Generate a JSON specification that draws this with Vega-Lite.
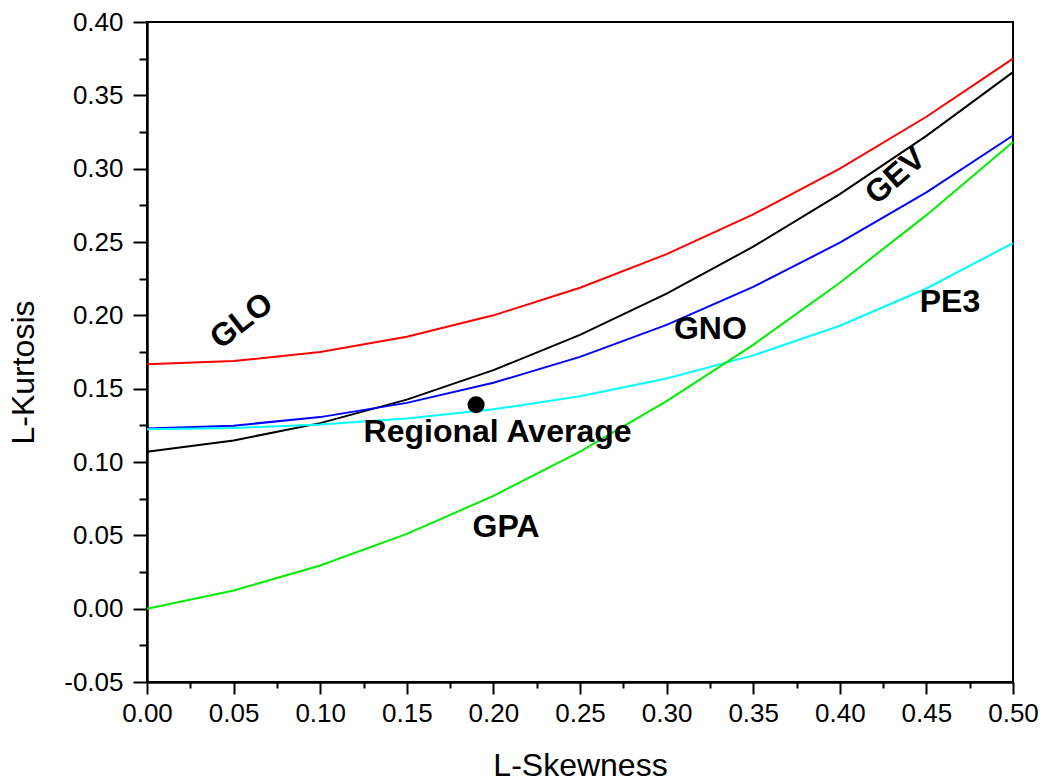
{
  "$schema": "https://vega.github.io/schema/vega-lite/v6.json",
  "width": 866,
  "height": 660,
  "autosize": "none",
  "padding": {"left": 147, "top": 22, "right": 33, "bottom": 99},
  "background": "white",
  "config": {
    "view": {"stroke": "black", "strokeWidth": 2},
    "font": "Liberation Sans",
    "axis": {
      "grid": false,
      "domainColor": "black",
      "domainWidth": 2.5,
      "tickColor": "black",
      "tickWidth": 2,
      "labelColor": "black",
      "labelFont": "Liberation Sans",
      "labelFontSize": 26,
      "titleFont": "Liberation Sans",
      "titleFontSize": 32,
      "titleFontWeight": "normal",
      "titleColor": "black"
    }
  },
  "datasets": {
    "curves": [
      {"dist": "GLO", "skew": 0.00, "kurt": 0.1667},
      {"dist": "GLO", "skew": 0.05, "kurt": 0.1688},
      {"dist": "GLO", "skew": 0.10, "kurt": 0.1750},
      {"dist": "GLO", "skew": 0.15, "kurt": 0.1854},
      {"dist": "GLO", "skew": 0.20, "kurt": 0.2000},
      {"dist": "GLO", "skew": 0.25, "kurt": 0.2188},
      {"dist": "GLO", "skew": 0.30, "kurt": 0.2417},
      {"dist": "GLO", "skew": 0.35, "kurt": 0.2688},
      {"dist": "GLO", "skew": 0.40, "kurt": 0.3000},
      {"dist": "GLO", "skew": 0.45, "kurt": 0.3354},
      {"dist": "GLO", "skew": 0.50, "kurt": 0.3750},
      {"dist": "GEV", "skew": 0.00, "kurt": 0.1070},
      {"dist": "GEV", "skew": 0.05, "kurt": 0.1147},
      {"dist": "GEV", "skew": 0.10, "kurt": 0.1265},
      {"dist": "GEV", "skew": 0.15, "kurt": 0.1425},
      {"dist": "GEV", "skew": 0.20, "kurt": 0.1626},
      {"dist": "GEV", "skew": 0.25, "kurt": 0.1867},
      {"dist": "GEV", "skew": 0.30, "kurt": 0.2148},
      {"dist": "GEV", "skew": 0.35, "kurt": 0.2468},
      {"dist": "GEV", "skew": 0.40, "kurt": 0.2827},
      {"dist": "GEV", "skew": 0.45, "kurt": 0.3224},
      {"dist": "GEV", "skew": 0.50, "kurt": 0.3658},
      {"dist": "GNO", "skew": 0.00, "kurt": 0.1228},
      {"dist": "GNO", "skew": 0.05, "kurt": 0.1248},
      {"dist": "GNO", "skew": 0.10, "kurt": 0.1306},
      {"dist": "GNO", "skew": 0.15, "kurt": 0.1403},
      {"dist": "GNO", "skew": 0.20, "kurt": 0.1540},
      {"dist": "GNO", "skew": 0.25, "kurt": 0.1717},
      {"dist": "GNO", "skew": 0.30, "kurt": 0.1935},
      {"dist": "GNO", "skew": 0.35, "kurt": 0.2194},
      {"dist": "GNO", "skew": 0.40, "kurt": 0.2495},
      {"dist": "GNO", "skew": 0.45, "kurt": 0.2839},
      {"dist": "GNO", "skew": 0.50, "kurt": 0.3226},
      {"dist": "PE3", "skew": 0.00, "kurt": 0.1224},
      {"dist": "PE3", "skew": 0.05, "kurt": 0.1232},
      {"dist": "PE3", "skew": 0.10, "kurt": 0.1255},
      {"dist": "PE3", "skew": 0.15, "kurt": 0.1297},
      {"dist": "PE3", "skew": 0.20, "kurt": 0.1359},
      {"dist": "PE3", "skew": 0.25, "kurt": 0.1448},
      {"dist": "PE3", "skew": 0.30, "kurt": 0.1569},
      {"dist": "PE3", "skew": 0.35, "kurt": 0.1727},
      {"dist": "PE3", "skew": 0.40, "kurt": 0.1929},
      {"dist": "PE3", "skew": 0.45, "kurt": 0.2183},
      {"dist": "PE3", "skew": 0.50, "kurt": 0.2493},
      {"dist": "GPA", "skew": 0.00, "kurt": 0.0000},
      {"dist": "GPA", "skew": 0.05, "kurt": 0.0124},
      {"dist": "GPA", "skew": 0.10, "kurt": 0.0294},
      {"dist": "GPA", "skew": 0.15, "kurt": 0.0510},
      {"dist": "GPA", "skew": 0.20, "kurt": 0.0769},
      {"dist": "GPA", "skew": 0.25, "kurt": 0.1071},
      {"dist": "GPA", "skew": 0.30, "kurt": 0.1415},
      {"dist": "GPA", "skew": 0.35, "kurt": 0.1799},
      {"dist": "GPA", "skew": 0.40, "kurt": 0.2222},
      {"dist": "GPA", "skew": 0.45, "kurt": 0.2683},
      {"dist": "GPA", "skew": 0.50, "kurt": 0.3182}
    ],
    "avg": [{"skew": 0.19, "kurt": 0.139}],
    "labels": [
      {"label": "GLO", "skew": 0.0546, "kurt": 0.1962},
      {"label": "GEV", "skew": 0.4321, "kurt": 0.2950},
      {"label": "GNO", "skew": 0.3253, "kurt": 0.1837},
      {"label": "PE3", "skew": 0.4636, "kurt": 0.2025},
      {"label": "Regional Average", "skew": 0.2024, "kurt": 0.1139},
      {"label": "GPA", "skew": 0.2073, "kurt": 0.0489}
    ]
  },
  "layer": [
    {
      "data": {"name": "avg"},
      "mark": {"type": "point", "opacity": 0},
      "encoding": {
        "x": {
          "field": "skew", "type": "quantitative",
          "scale": {"domain": [0, 0.5], "nice": false, "zero": false},
          "axis": {"orient": "bottom", "values": [0.025, 0.075, 0.125, 0.175, 0.225, 0.275, 0.325, 0.375, 0.425, 0.475], "tickSize": 6, "labels": false, "domain": false, "title": null}
        },
        "y": {
          "field": "kurt", "type": "quantitative",
          "scale": {"domain": [-0.05, 0.4], "nice": false, "zero": false},
          "axis": {"orient": "left", "values": [-0.025, 0.025, 0.075, 0.125, 0.175, 0.225, 0.275, 0.325, 0.375], "tickSize": 8, "labels": false, "domain": false, "title": null}
        }
      }
    },
    {
      "data": {"name": "curves"},
      "mark": {"type": "line", "strokeWidth": 2},
      "encoding": {
        "x": {
          "field": "skew", "type": "quantitative",
          "scale": {"domain": [0, 0.5], "nice": false, "zero": false},
          "axis": {
            "orient": "bottom",
            "values": [0, 0.05, 0.1, 0.15, 0.2, 0.25, 0.3, 0.35, 0.4, 0.45, 0.5],
            "format": ".2f",
            "tickSize": 12,
            "labelPadding": 6,
            "labelFlush": false,
            "labelOverlap": false,
            "title": "L-Skewness",
            "titleX": 433,
            "titleY": 93,
            "titleBaseline": "alphabetic",
            "titleAlign": "center"
          }
        },
        "y": {
          "field": "kurt", "type": "quantitative",
          "scale": {"domain": [-0.05, 0.4], "nice": false, "zero": false},
          "axis": {
            "orient": "left",
            "values": [-0.05, 0, 0.05, 0.1, 0.15, 0.2, 0.25, 0.3, 0.35, 0.4],
            "labelExpr": "replace(format(datum.value, '.2f'), '\u2212', '-')",
            "tickSize": 14,
            "labelPadding": 10,
            "labelFlush": false,
            "labelOverlap": false,
            "title": "L-Kurtosis",
            "titleX": -114,
            "titleY": 350,
            "titleAngle": -90,
            "titleBaseline": "alphabetic",
            "titleAlign": "center"
          }
        },
        "color": {
          "field": "dist", "type": "nominal",
          "scale": {"domain": ["GLO", "GEV", "GNO", "PE3", "GPA"], "range": ["#ff0000", "#000000", "#0000ff", "#00ffff", "#00ee00"]},
          "legend": null
        }
      }
    },
    {
      "data": {"name": "avg"},
      "mark": {"type": "circle", "size": 290, "color": "black", "opacity": 1},
      "encoding": {
        "x": {"field": "skew", "type": "quantitative", "axis": null},
        "y": {"field": "kurt", "type": "quantitative", "axis": null}
      }
    },
    {
      "data": {"name": "labels"},
      "transform": [{"filter": "datum.label != 'GLO' && datum.label != 'GEV'"}],
      "mark": {"type": "text", "font": "Liberation Sans", "fontWeight": "bold", "fontSize": 32, "align": "center", "baseline": "alphabetic", "color": "black"},
      "encoding": {
        "x": {"field": "skew", "type": "quantitative", "axis": null},
        "y": {"field": "kurt", "type": "quantitative", "axis": null},
        "text": {"field": "label"}
      }
    },
    {
      "data": {"name": "labels"},
      "transform": [{"filter": "datum.label == 'GLO'"}],
      "mark": {"type": "text", "font": "Liberation Sans", "fontWeight": "bold", "fontSize": 32, "align": "center", "baseline": "middle", "angle": -38, "color": "black"},
      "encoding": {
        "x": {"field": "skew", "type": "quantitative", "axis": null},
        "y": {"field": "kurt", "type": "quantitative", "axis": null},
        "text": {"field": "label"}
      }
    },
    {
      "data": {"name": "labels"},
      "transform": [{"filter": "datum.label == 'GEV'"}],
      "mark": {"type": "text", "font": "Liberation Sans", "fontWeight": "bold", "fontSize": 32, "align": "center", "baseline": "middle", "angle": -41, "color": "black"},
      "encoding": {
        "x": {"field": "skew", "type": "quantitative", "axis": null},
        "y": {"field": "kurt", "type": "quantitative", "axis": null},
        "text": {"field": "label"}
      }
    }
  ],
  "resolve": {"axis": {"x": "independent", "y": "independent"}}
}
